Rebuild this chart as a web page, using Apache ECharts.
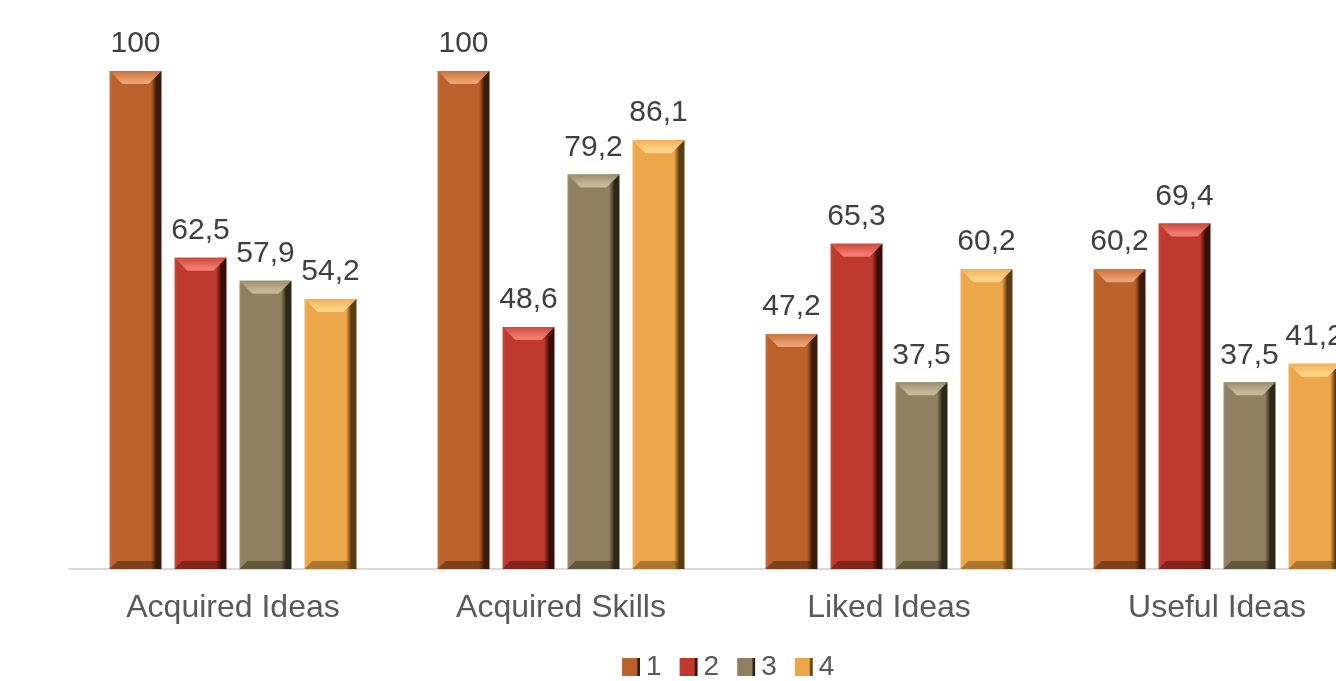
<!DOCTYPE html>
<html><head><meta charset="utf-8">
<script src="https://cdn.jsdelivr.net/npm/echarts@6/dist/echarts.min.js"></script>
<style>html,body{margin:0;padding:0;background:#fff;overflow:hidden}#c{width:1336px;height:681px}</style>
</head><body><div id="c"></div>
<script>
const categories = ['Acquired Ideas', 'Acquired Skills', 'Liked Ideas', 'Useful Ideas'];
const seriesNames = ['1', '2', '3', '4'];
const s1 = [100, 100, 47.2, 60.2];
const s2 = [62.5, 48.6, 65.3, 69.4];
const s3 = [57.9, 79.2, 37.5, 37.5];
const s4 = [54.2, 86.1, 60.2, 41.2];
const colors = ['#B9622B', '#BE3A2E', '#8E8060', '#EDA64A'];
const darks = ['#3a1a08', '#3a0e0a', '#2a2618', '#5a3c12'];
const mids = ['#c7733d', '#cc4a3e', '#9c8f6e', '#f2b256'];
const lights = ['#eea070', '#f27a6e', '#c4b898', '#ffd488'];
const data = [s1, s2, s3, s4];
const BW = 52, GAP = 13, BEV = 13;

function grad(i) {
  return new echarts.graphic.LinearGradient(0, 0, 1, 0, [
    {offset: 0, color: mids[i]},
    {offset: 0.06, color: colors[i]},
    {offset: 0.80, color: colors[i]},
    {offset: 0.90, color: darks[i]},
    {offset: 1, color: darks[i]}
  ]);
}

const barSeries = seriesNames.map((n, i) => ({
  name: n, type: 'bar', data: data[i],
  barWidth: BW, barGap: (GAP / BW * 100) + '%',
  itemStyle: {color: grad(i)},
  label: {
    show: true, position: 'top', distance: 12,
    fontFamily: 'Liberation Sans', fontSize: 30, color: '#404040',
    formatter: p => String(p.value).replace('.', ',')
  }
}));

const bevelSeries = seriesNames.map((n, i) => ({
  name: 'bevel' + n, type: 'custom', silent: true, z: 3,
  data: data[i].map((v, k) => [k, v]),
  renderItem: (params, api) => {
    const top = api.coord([api.value(0), api.value(1)]);
    const base = api.coord([api.value(0), 0]);
    const cx = top[0] + (i - 1.5) * (BW + GAP);
    const x0 = cx - BW / 2, x1 = cx + BW / 2;
    const y0 = top[1], yb = base[1];
    return {
      type: 'group', children: [
        {type: 'polygon', shape: {points: [[x0, y0], [x1, y0], [x1 - BEV, y0 + BEV], [x0 + BEV, y0 + BEV]]},
         style: {fill: new echarts.graphic.LinearGradient(0, 0, 0, 1, [
           {offset: 0, color: mids[i]}, {offset: 0.8, color: lights[i]}, {offset: 1, color: lights[i]}])}},
        {type: 'polygon', shape: {points: [[x0, yb], [x1, yb], [x1 - 8, yb - 8], [x0 + 8, yb - 8]]},
         style: {fill: darks[i], opacity: 0.45}}
      ]
    };
  }
}));

const chart = echarts.init(document.getElementById('c'));
chart.setOption({
  animation: false,
  legend: {
    data: seriesNames,
    top: 648, left: 617,
    itemWidth: 18, itemHeight: 18, itemGap: 18,
    icon: 'rect',
    textStyle: {fontFamily: 'Liberation Sans', fontSize: 28, color: '#595959', padding: [0, 0, 0, 1]}
  },
  grid: {left: 69, width: 1312, top: 71, bottom: 112, outerBoundsMode: 'none', containLabel: false},
  xAxis: {
    type: 'category', data: categories,
    axisLine: {lineStyle: {color: '#d9d9d9', width: 2}},
    axisTick: {show: false},
    axisLabel: {fontFamily: 'Liberation Sans', fontSize: 32, color: '#595959', margin: 23}
  },
  yAxis: {type: 'value', min: 0, max: 100, show: false, splitLine: {show: false}},
  series: barSeries.concat(bevelSeries)
});
</script></body></html>
